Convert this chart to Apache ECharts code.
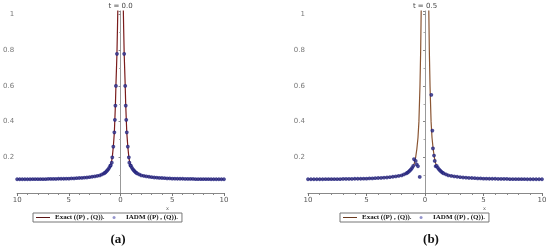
<!DOCTYPE html>
<html>
<head>
<meta charset="utf-8">
<script src="https://cdn.jsdelivr.net/npm/echarts@6/dist/echarts.min.js"></script>
<style>
  html, body { margin: 0; padding: 0; background: #fff; }
  #chart { width: 550px; height: 246px; }
</style>
</head>
<body>
<div id="chart"></div>
<script>
// far field of the IADM points (same in both panels)
var tailXL = [-10,-9.75,-9.5,-9.25,-9,-8.75,-8.5,-8.25,-8,-7.75,-7.5,-7.25,-7,-6.75,-6.5,-6.25,-6,-5.75,-5.5,-5.25,-5,
              -4.75,-4.5,-4.25,-4,-3.75,-3.5,-3.25,-3,-2.75,-2.5,-2.25,-2,
              -1.8,-1.6,-1.5,-1.4,-1.3,-1.2,-1.1,-1];
var tailYL = [0.077,0.077,0.077,0.077,0.077,0.077,0.078,0.078,0.078,0.078,0.078,0.078,0.079,0.079,0.079,0.079,0.08,0.08,0.08,0.081,0.081,
              0.082,0.082,0.083,0.084,0.085,0.086,0.087,0.089,0.091,0.093,0.096,0.099,
              0.104,0.11,0.114,0.119,0.125,0.132,0.141,0.152];
var tailXR = [1,1.1,1.2,1.3,1.4,1.5,1.6,1.8,
              2,2.25,2.5,2.75,3,3.25,3.5,3.75,4,4.25,4.5,4.75,
              5,5.25,5.5,5.75,6,6.25,6.5,6.75,7,7.25,7.5,7.75,8,8.25,8.5,8.75,9,9.25,9.5,9.75,10];
var tailYR = [0.152,0.141,0.132,0.125,0.119,0.114,0.11,0.104,
              0.099,0.096,0.093,0.091,0.089,0.087,0.086,0.085,0.084,0.083,0.082,0.082,
              0.081,0.081,0.08,0.08,0.08,0.079,0.079,0.079,0.079,0.078,0.078,0.078,0.078,0.078,0.078,0.077,0.077,0.077,0.077,0.077,0.077];

// IADM points near the peak
var centerXa = [-0.95,-0.85,-0.8,-0.7,-0.6,-0.55,-0.5,-0.45,-0.35, 0.35,0.45,0.5,0.55,0.6,0.7,0.8,0.85,0.95];
var centerYa = [0.155,0.17,0.2,0.26,0.34,0.41,0.49,0.6,0.78, 0.78,0.6,0.49,0.41,0.34,0.26,0.2,0.17,0.155];
var centerXb = [-0.94,-0.8,-0.71,-0.6,-0.45, 0.54,0.63,0.68,0.77,0.83,0.91];
var centerYb = [0.19,0.18,0.16,0.15,0.09, 0.55,0.35,0.25,0.21,0.18,0.15];

// exact solution curves
var exactXa = [-10,-8,-6,-5,-4,-3,-2.5,-2,-1.6,-1.4,-1.2,-1,-0.9,-0.8,-0.7,-0.6,-0.5,-0.45,-0.4,-0.35,-0.3,-0.25,-0.2,
               0,
               0.2,0.25,0.3,0.35,0.4,0.45,0.5,0.6,0.7,0.8,0.9,1,1.2,1.4,1.6,2,2.5,3,4,5,6,8,10];
var exactYa = [0.077,0.078,0.079,0.08,0.084,0.089,0.093,0.099,0.11,0.119,0.132,0.152,0.168,0.2,0.26,0.34,0.49,0.6,0.69,0.78,0.92,1.08,1.3,
               null,
               1.3,1.08,0.92,0.78,0.69,0.6,0.49,0.34,0.26,0.2,0.168,0.152,0.132,0.119,0.11,0.099,0.093,0.089,0.084,0.08,0.079,0.078,0.077];
var exactXb = [-10,-8,-6,-5,-4,-3,-2.5,-2,-1.6,-1.4,-1.2,-1,-0.9,-0.8,-0.7,-0.6,-0.52,-0.43,-0.37,-0.33,-0.28,
               0,
               0.28,0.33,0.37,0.43,0.52,0.6,0.7,0.8,0.9,1,1.2,1.4,1.6,2,2.5,3,4,5,6,8,10];
var exactYb = [0.077,0.078,0.079,0.08,0.084,0.089,0.093,0.099,0.11,0.119,0.132,0.152,0.168,0.2,0.245,0.31,0.4,0.6,0.8,1.0,1.2,
               null,
               1.2,1.0,0.8,0.6,0.4,0.31,0.245,0.2,0.168,0.152,0.132,0.119,0.11,0.099,0.093,0.089,0.084,0.08,0.079,0.078,0.077];

var xTicks = [-10, -5, 0, 5, 10];
var yTicks = [0.2, 0.4, 0.6, 0.8, 1];
var panelTitles = ['t = 0.0', 't = 0.5'];
var captions = ['(a)', '(b)'];
var exactName = 'Exact ((P) , (Q)).';
var iadmName = 'IADM ((P) , (Q)).';

function pairs(xs, ys) {
  var out = [];
  for (var i = 0; i < xs.length; i++) out.push([xs[i], ys[i] == null ? '-' : ys[i]]);
  return out;
}

var lblFont = 'DejaVu Sans';
var markColor = '#1e1e7c';

function xAx(idx) {
  return {
    gridIndex: idx, type: 'value', min: -10, max: 10, interval: 5,
    axisLine: { onZero: true, lineStyle: { color: '#888', width: 1 } },
    axisTick: { show: true, length: 3, lineStyle: { color: '#777' } },
    minorTick: { show: true, splitNumber: 5, length: 2, lineStyle: { color: '#888' } },
    splitLine: { show: false },
    axisLabel: {
      fontSize: 7, color: '#555', fontFamily: lblFont, margin: 4,
      formatter: function (v) { return xTicks.indexOf(v) >= 0 ? String(Math.abs(v)) : ''; }
    }
  };
}

function yAx(idx) {
  return {
    gridIndex: idx, type: 'value', min: 0, max: 1.02, interval: 0.2,
    name: panelTitles[idx], nameLocation: 'end', nameGap: 1,
    nameTextStyle: { fontSize: 7, color: '#444', fontFamily: lblFont },
    axisLine: { onZero: true, lineStyle: { color: '#999', width: 1 } },
    axisTick: { show: true, length: 2, lineStyle: { color: '#888' } },
    minorTick: { show: true, splitNumber: 2, length: 1.5, lineStyle: { color: '#aaa' } },
    splitLine: { show: false },
    axisLabel: {
      fontSize: 7, color: '#777', fontFamily: lblFont, margin: 3,
      formatter: function (v) {
        var r = Math.round(v * 10) / 10;
        if (Math.abs(v - r) > 1e-6 || yTicks.indexOf(r) < 0) return '';
        return r === 1 ? '1' : r.toFixed(1);
      }
    }
  };
}

function exactSeries(idx, xs, ys, color) {
  return {
    name: exactName, type: 'line', xAxisIndex: idx, yAxisIndex: idx,
    data: pairs(xs, ys), symbol: 'none', connectNulls: false, clip: true,
    lineStyle: { color: color, width: 1.2 }, itemStyle: { color: color }, z: 2
  };
}

function iadmSeries(idx, cx, cy) {
  var d = pairs(tailXL, tailYL).concat(pairs(cx, cy)).concat(pairs(tailXR, tailYR));
  return {
    name: iadmName, type: 'scatter', xAxisIndex: idx, yAxisIndex: idx,
    data: d, symbol: 'emptyCircle', symbolSize: 1.8,
    itemStyle: { color: markColor, borderWidth: 1.1 }, z: 3
  };
}

function legendAt(left, lineColor) {
  return {
    left: left, top: 213, orient: 'horizontal',
    data: [
      { name: exactName, icon: 'path://M0,0 H14 V1 H0 Z', itemStyle: { color: lineColor } },
      { name: iadmName, icon: 'circle', itemStyle: { color: '#7a7ac0', borderWidth: 0 } }
    ],
    itemWidth: 14, itemHeight: 3, itemGap: 8,
    padding: [1, 4, 1, 3],
    borderColor: '#777', borderWidth: 1,
    selectedMode: false,
    textStyle: { fontSize: 7, fontWeight: 'bold', color: '#111', fontFamily: 'Liberation Serif' }
  };
}

var chart = echarts.init(document.getElementById('chart'), null, { renderer: 'canvas' });
chart.setOption({
  animation: false,
  backgroundColor: '#fff',
  grid: [
    { left: 4, right: 326, top: 11, bottom: 53 },
    { left: 308, right: 8, top: 11, bottom: 53 }
  ],
  xAxis: [xAx(0), xAx(1)],
  yAxis: [yAx(0), yAx(1)],
  legend: [legendAt(33, '#5a1414'), legendAt(340, '#6a3a1e')],
  title: [
    { text: captions[0], left: 113, top: 228, textAlign: 'center',
      textStyle: { fontSize: 13, fontWeight: 'bold', color: '#111', fontFamily: 'Liberation Serif' } },
    { text: captions[1], left: 426, top: 228, textAlign: 'center',
      textStyle: { fontSize: 13, fontWeight: 'bold', color: '#111', fontFamily: 'Liberation Serif' } }
  ],
  graphic: [
    { type: 'text', left: 166, top: 206, style: { text: 'x', fontSize: 5, fill: '#666', fontFamily: lblFont } },
    { type: 'text', left: 483, top: 206, style: { text: 'x', fontSize: 5, fill: '#666', fontFamily: lblFont } }
  ],
  series: [
    exactSeries(0, exactXa, exactYa, '#7a1c1c'),
    iadmSeries(0, centerXa, centerYa),
    exactSeries(1, exactXb, exactYb, '#8a5532'),
    iadmSeries(1, centerXb, centerYb)
  ]
});
</script>
</body>
</html>
